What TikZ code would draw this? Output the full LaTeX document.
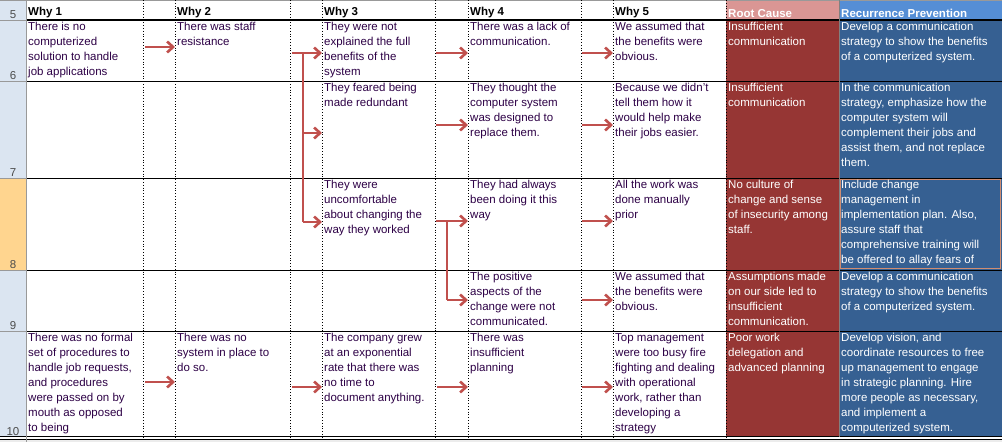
\documentclass[tikz,border=0pt]{standalone}
\usepackage{fontspec}
\setmainfont{Liberation Sans}
\usetikzlibrary{arrows.meta}
\definecolor{txt}{RGB}{45,0,70}
\definecolor{arr}{RGB}{192,80,77}
\definecolor{hdr}{RGB}{219,229,241}
\definecolor{sel}{RGB}{255,213,143}
\definecolor{rch}{RGB}{218,150,148}
\definecolor{rpH}{RGB}{85,142,213}
\definecolor{rcb}{RGB}{150,54,52}
\definecolor{rpb}{RGB}{54,96,146}
\tikzset{
 cell/.style={anchor=north west,inner sep=1pt,align=left,text=txt,font=\fontsize{11.5}{15}\selectfont},
 wcell/.style={cell,text=white},
 head/.style={anchor=south west,inner sep=1pt,font=\fontsize{11.5}{14}\selectfont\bfseries},
 rown/.style={anchor=south,inner sep=1pt,font=\fontsize{11.5}{14}\selectfont,text=black!70},
 flow/.style={arr,line width=2.6pt,-{Straight Barb[length=6pt,width=11pt,line width=2.6pt]}},
 seg/.style={arr,line width=2.6pt},
 grid/.style={black,line width=0.8pt},
 dot/.style={black,line width=0.8pt,dotted}
}
\begin{document}
\begin{tikzpicture}[x=1pt,y=-1pt]
\useasboundingbox (0,0) rectangle (1002,442);
\fill[white] (0,0) rectangle (1002,442);
% row header column
\fill[hdr] (0,0) rectangle (26,437);
\fill[sel] (0,178) rectangle (26,270);
\fill[gray!15] (0,440) rectangle (1002,442);
% coloured columns
\fill[rch] (726,0) rectangle (839,20);
\fill[rpH] (839,0) rectangle (1002,20);
\fill[rcb] (726,20) rectangle (839,437);
\fill[rpb] (839,20) rectangle (1002,437);
% horizontal lines
\foreach \y in {81,178,270,331} \draw[grid] (0,\y) -- (1002,\y);
\draw[black,line width=2pt] (26,20) -- (1002,20);
\draw[black!40,line width=0.6pt] (0,0.5) -- (1002,0.5);
\draw[grid] (0,436.5) -- (1002,436.5);
\draw[grid] (0,439) -- (1002,439);
\draw[black!40,line width=0.6pt] (0,20) -- (26,20);
\foreach \y in {81,178,270,331} \draw[black!40,line width=0.6pt] (0,\y) -- (26,\y);
% vertical lines
\draw[black!40,line width=0.8pt] (26,0) -- (26,442);
\foreach \x in {143,175,290,322,435,468,581,613,726} \draw[dot] (\x,0) -- (\x,437);
\draw[black!50,line width=0.6pt] (839,0) -- (839,437);
\draw[rch!60!brown,line width=1.2pt] (840.5,179.5) rectangle (1000.5,268.5);
% headers
\node[head] (h1) at (27,19) {Why 1};
\node[head] (h2) at (176,19) {Why 2};
\node[head] (h3) at (323,19) {Why 3};
\node[head] (h4) at (469,19) {Why 4};
\node[head] (h5) at (614,19) {Why 5};
\node[head,text=white] (h6) at (727,19) {Root Cause};
\node[head,text=white] (h7) at (840,19) {Recurrence Prevention};
% row numbers
\node[rown] (r5) at (13,20) {5};
\node[rown] (r6) at (13,81) {6};
\node[rown] (r7) at (13,178) {7};
\node[rown] (r8) at (13,270) {8};
\node[rown] (r9) at (13,331) {9};
\node[rown] (r10) at (13,437) {10};
% row 6
\node[cell] (a1) at (27,21) {There is no\\computerized\\solution to handle\\job applications};
\node[cell] (a2) at (176,21) {There was staff\\resistance};
\node[cell] (a3) at (323,21) {They were not\\explained the full\\benefits of the\\system};
\node[cell] (a4) at (469,21) {There was a lack of\\communication.};
\node[cell] (a5) at (614,21) {We assumed that\\the benefits were\\obvious.};
\node[wcell] (a6) at (727,21) {Insufficient\\communication};
\node[wcell] (a7) at (840,21) {Develop a communication\\strategy to show the benefits\\of a computerized system.};
% row 7
\node[cell] (b3) at (323,82) {They feared being\\made redundant};
\node[cell] (b4) at (469,82) {They thought the\\computer system\\was designed to\\replace them.};
\node[cell] (b5) at (614,82) {Because we didn't\\tell them how it\\would help make\\their jobs easier.};
\node[wcell] (b6) at (727,82) {Insufficient\\communication};
\node[wcell] (b7) at (840,82) {In the communication\\strategy, emphasize how the\\computer system will\\complement their jobs and\\assist them, and not replace\\them.};
% row 8
\node[cell] (c3) at (323,179) {They were\\uncomfortable\\about changing the\\way they worked};
\node[cell] (c4) at (469,179) {They had always\\been doing it this\\way};
\node[cell] (c5) at (614,179) {All the work was\\done manually\\prior};
\node[wcell] (c6) at (727,179) {No culture of\\change and sense\\of insecurity among\\staff.};
\node[wcell] (c7) at (840,179) {Include change\\management in\\implementation plan. Also,\\assure staff that\\comprehensive training will\\be offered to allay fears of};
% row 9
\node[cell] (d4) at (469,271) {The positive\\aspects of the\\change were not\\communicated.};
\node[cell] (d5) at (614,271) {We assumed that\\the benefits were\\obvious.};
\node[wcell] (d6) at (727,271) {Assumptions made\\on our side led to\\insufficient\\communication.};
\node[wcell] (d7) at (840,271) {Develop a communication\\strategy to show the benefits\\of a computerized system.};
% row 10
\node[cell] (e1) at (27,332) {There was no formal\\set of procedures to\\handle job requests,\\and procedures\\were passed on by\\mouth as opposed\\to being};
\node[cell] (e2) at (176,332) {There was no\\system in place to\\do so.};
\node[cell] (e3) at (323,332) {The company grew\\at an exponential\\rate that there was\\no time to\\document anything.};
\node[cell] (e4) at (469,332) {There was\\insufficient\\planning};
\node[cell] (e5) at (614,332) {Top management\\were too busy fire\\fighting and dealing\\with operational\\work, rather than\\developing a\\strategy};
\node[wcell] (e6) at (727,332) {Poor work\\delegation and\\advanced planning};
\node[wcell] (e7) at (840,332) {Develop vision, and\\coordinate resources to free\\up management to engage\\in strategic planning. Hire\\more people as necessary,\\and implement a\\computerized system.};
% arrows
\coordinate (s12) at (145,47); \coordinate (t12) at (175,47);
\draw[flow] (s12) -- (t12);
\coordinate (s23) at (292,53); \coordinate (j23) at (303,53);
\coordinate (k7) at (303,133); \coordinate (k8) at (303,222);
\draw[flow] (s23) -- (322,53);
\draw[seg] (j23) -- (k8);
\draw[flow] (k7) -- (322,133);
\draw[flow] (k8) -- (322,222);
\draw[flow] (436,53) -- (468,53);
\draw[flow] (436,125) -- (468,125);
\coordinate (j34) at (447,221); \coordinate (k9) at (447,300);
\draw[flow] (436,221) -- (468,221);
\draw[seg] (j34) -- (k9);
\draw[flow] (k9) -- (468,300);
\foreach \y in {53,125,221,300,387} \draw[flow] (582,\y) -- (613,\y);
\draw[flow] (145,382) -- (175,382);
\draw[flow] (292,387) -- (322,387);
\draw[flow] (437,387) -- (468,387);
\end{tikzpicture}
\end{document}
